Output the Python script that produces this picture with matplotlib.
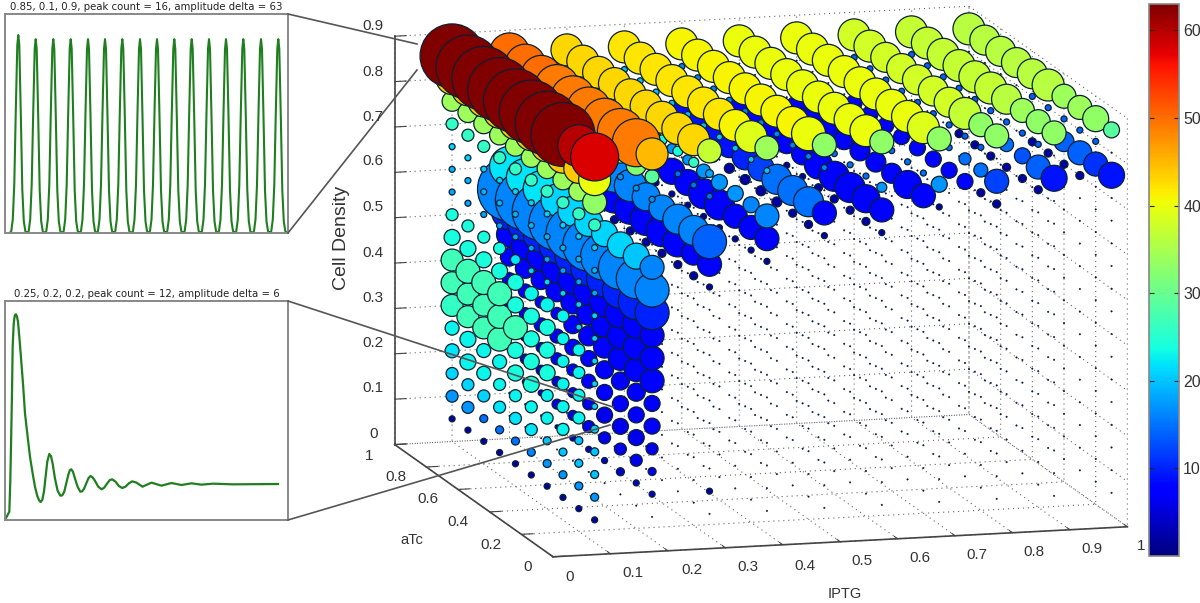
import matplotlib
matplotlib.use('Agg')
import matplotlib.pyplot as plt
from matplotlib.lines import Line2D

plt.rcParams['font.family'] = ['Liberation Sans', 'DejaVu Sans']

W, H = 1200, 603

iptg = [0.1, 0.2, 0.3, 0.4, 0.5, 0.6, 0.7, 0.8, 0.9, 1.0]
atc = [0.1, 0.2, 0.3, 0.4, 0.5, 0.6, 0.7, 0.8, 0.9, 1.0]
density = [0.05, 0.1, 0.15, 0.2, 0.25, 0.3, 0.35, 0.4, 0.45, 0.5, 0.55, 0.6, 0.65, 0.7, 0.75, 0.8, 0.85]

# each sheet: density -> (marker radius in px along aTc, amplitude delta along aTc)
# anything not listed is one of the tiny dark dots
sheet_01 = {
    0.85: ([24, 21, 32, 32, 32, 32, 32, 32, 32, 32], [58, 60, 63, 63, 63, 63, 63, 63, 63, 63]),
    0.80: ([16, 15, 16, 16, 16, 16, 16, 16, 16, 16], [40, 44, 44, 44, 44, 44, 44, 44, 44, 44]),
    0.75: ([12, 10, 10, 10, 10, 10, 10, 10, 10, 10], [33, 34, 34, 34, 34, 34, 34, 34, 34, 34]),
    0.70: ([6, 6, 6, 6, 6, 6, 6, 6, 6, 6], [26, 26, 26, 26, 26, 26, 26, 26, 26, 26]),
    0.65: ([3, 3, 3, 3, 3, 3, 3, 3, 3, 3], [21, 21, 21, 21, 21, 21, 21, 21, 21, 21]),
    0.60: ([3, 3, 3, 3, 3, 3, 3, 3, 3, 3], [19, 19, 19, 19, 19, 19, 19, 19, 19, 19]),
    0.55: ([3, 3, 3, 3, 3, 3, 3, 3, 3, 3], [18, 18, 18, 18, 18, 18, 18, 18, 18, 18]),
    0.50: ([3, 3, 3, 3, 3, 5, 6, 6, 6, 6], [21, 21, 21, 21, 21, 22, 24, 24, 24, 24]),
    0.45: ([3, 3, 6, 7, 7, 8, 8, 8, 8, 8], [21, 21, 23, 23, 23, 24, 24, 24, 24, 24]),
    0.40: ([3, 6, 6, 8, 8, 8, 12, 12, 12, 11], [21, 23, 23, 24, 24, 24, 27, 27, 27, 27]),
    0.35: ([3, 6, 6, 8, 8, 12, 12, 11, 11, 11], [21, 23, 23, 24, 24, 27, 27, 27, 27, 27]),
    0.30: ([3, 6, 6, 8, 8, 8, 12, 11, 11, 11], [21, 23, 23, 24, 24, 24, 27, 27, 27, 26]),
    0.25: ([4, 6, 6, 6, 8, 8, 7, 7, 8, 7], [21, 23, 23, 23, 24, 24, 23, 23, 23, 23]),
    0.20: ([4, 4, 6, 6, 6, 6, 6, 7, 8, 7], [20, 20, 23, 23, 23, 23, 23, 23, 23, 22]),
    0.15: ([4, 4, 4, 4, 6, 6, 6, 6, 6, 6], [20, 20, 20, 20, 22, 22, 22, 21, 21, 21]),
    0.10: ([4, 4, 4, 4, 4, 4, 4, 4, 6, 6], [17, 17, 17, 17, 16, 15, 15, 15, 17, 17]),
    0.05: ([3, 3, 3, 3, 3, 3, 3, 3, 3, 3], [2, 2, 2, 2, 2, 2, 2, 2, 2, 2]),
}
sheet_02 = {
    0.85: ([16, 24, 23, 22, 22, 22, 22, 20, 20, 20], [45, 49, 49, 49, 49, 49, 49, 50, 50, 50]),
    0.80: ([7, 10, 9, 9, 9, 9, 9, 9, 9, 9], [29, 32, 33, 33, 33, 33, 33, 33, 33, 33]),
    0.75: ([3, 3, 3, 3, 3, 3, 3, 3, 3, 3], [17, 17, 17, 17, 17, 17, 17, 17, 17, 17]),
    0.60: ([12, 13, 13, 13, 14, 15, 16, 18, 19, 20], [16, 20, 21, 21, 21, 21, 21, 22, 22, 22]),
    0.55: ([17, 20, 22, 24, 26, 27, 28, 29, 30, 32], [16, 16, 16, 16, 16, 16, 16, 16, 16, 16]),
    0.50: ([17, 18, 18, 18, 18, 18, 18, 18, 18, 18], [10, 10, 10, 10, 10, 10, 10, 10, 10, 10]),
    0.45: ([12, 14, 15, 15, 15, 15, 15, 14, 14, 13], [8, 8, 8, 8, 8, 8, 8, 8, 8, 8]),
    0.40: ([12, 13, 13, 13, 12, 12, 11, 10, 10, 9], [8, 8, 8, 8, 8, 8, 8, 8, 8, 8]),
    0.35: ([12, 12, 12, 11, 10, 9, 6, 6, 7, 7], [8, 8, 8, 8, 8, 8, 8, 8, 8, 8]),
    0.30: ([8, 9, 9, 9, 8, 8, 7, 7, 6, 6], [7, 7, 7, 7, 7, 7, 7, 7, 7, 7]),
    0.25: ([8, 8, 8, 8, 7, 6, 6, 5, 5, 5], [7, 7, 7, 7, 7, 7, 7, 7, 7, 7]),
    0.20: ([6, 8, 8, 8, 6, 5, 5, 5, 5, 3], [6, 6, 6, 6, 6, 6, 6, 6, 6, 6]),
    0.15: ([4, 6, 6, 6, 6, 5, 5, 3, 3, 1], [6, 6, 6, 6, 6, 6, 6, 6, 6, 6]),
    0.10: ([3, 3, 4, 3, 3, 3, 2, 1, 1, 1], [4, 4, 4, 4, 4, 4, 4, 4, 4, 4]),
}
sheet_03 = {
    0.85: ([12, 16, 16, 16, 16, 16, 16, 16, 16, 16], [37, 43, 43, 43, 43, 43, 43, 43, 43, 43]),
    0.80: ([4, 5, 5, 5, 5, 5, 5, 5, 5, 5], [18, 26, 24, 24, 24, 24, 24, 24, 24, 24]),
    0.75: ([3, 3, 3, 3, 3, 3, 3, 3, 3, 3], [15, 15, 15, 15, 15, 15, 15, 15, 15, 15]),
    0.65: ([17, 15, 15, 13, 14, 16, 18, 18, 18, 16], [14, 16, 16, 16, 16, 16, 16, 16, 16, 16]),
    0.60: ([12, 12, 15, 16, 16, 16, 16, 16, 16, 16], [8, 8, 8, 8, 8, 8, 8, 8, 8, 8]),
    0.55: ([3, 4, 4, 4, 4, 4, 4, 4, 4, 4], [2, 2, 2, 2, 2, 2, 2, 2, 2, 2]),
    0.10: ([3, 0.7, 0.7, 0.7, 0.7, 0.7, 0.7, 0.7, 0.7, 0.7], [2, 0, 0, 0, 0, 0, 0, 0, 0, 0]),
}
sheet_04 = {
    0.85: ([12, 16, 16, 16, 16, 16, 16, 16, 16, 16], [34, 39, 41, 42, 42, 42, 42, 42, 42, 42]),
    0.80: ([3, 3, 3, 3, 3, 3, 3, 3, 3, 3], [20, 20, 20, 20, 20, 20, 20, 20, 20, 20]),
    0.70: ([12, 8, 8, 8, 7, 5, 5, 5, 5, 5], [16, 16, 17, 17, 17, 17, 17, 17, 17, 17]),
    0.65: ([12, 12, 12, 15, 15, 13, 13, 12, 12, 12], [8, 8, 8, 8, 8, 8, 8, 8, 8, 8]),
    0.60: ([3, 3, 3, 3, 3, 3, 3, 3, 3, 3], [2, 2, 2, 2, 2, 2, 2, 2, 2, 2]),
}
sheet_05 = {
    0.85: ([12, 17, 16, 16, 16, 16, 16, 16, 16, 16], [33, 40, 41, 41, 41, 41, 41, 41, 41, 41]),
    0.80: ([3, 3, 3, 3, 3, 3, 3, 3, 3, 3], [16, 16, 16, 16, 16, 16, 16, 16, 16, 16]),
    0.70: ([12, 15, 15, 15, 13, 13, 12, 12, 12, 12], [8, 15, 15, 15, 12, 10, 9, 9, 9, 9]),
    0.65: ([3, 4, 4, 5, 5, 5, 5, 5, 5, 5], [2, 2, 2, 2, 2, 2, 2, 2, 2, 2]),
}
sheet_06 = {
    0.85: ([12, 16, 16, 16, 16, 16, 16, 16, 16, 16], [33, 40, 40, 40, 40, 40, 40, 40, 40, 40]),
    0.75: ([5, 3, 3, 3, 3, 3, 3, 3, 3, 3], [17, 15, 15, 15, 15, 15, 15, 15, 15, 15]),
    0.70: ([12, 14, 15, 15, 14, 11, 11, 11, 11, 11], [8, 8, 8, 8, 8, 8, 8, 8, 8, 8]),
    0.65: ([3, 4, 4, 4, 4, 3, 3, 3, 3, 3], [2, 2, 2, 2, 2, 2, 2, 2, 2, 2]),
}
sheet_07 = {
    0.85: ([12, 16, 16, 16, 16, 16, 16, 16, 16, 16], [33, 39, 40, 40, 40, 40, 40, 40, 40, 40]),
    0.75: ([8, 3, 3, 3, 3, 3, 3, 3, 3, 3], [17, 15, 15, 15, 15, 15, 15, 15, 15, 15]),
    0.70: ([3, 12, 14, 10, 10, 10, 10, 10, 10, 10], [2, 8, 8, 8, 8, 8, 8, 8, 8, 8]),
}
sheet_08 = {
    0.85: ([12, 12, 16, 15, 15, 15, 15, 15, 16, 16], [33, 33, 37, 38, 38, 38, 38, 38, 38, 38]),
    0.80: ([0.7, 3, 3, 3, 3, 3, 3, 3, 3, 3], [0, 14, 14, 14, 14, 14, 14, 14, 14, 14]),
    0.75: ([12, 7, 6, 3, 3, 0.7, 0.7, 0.7, 0.7, 0.7], [12, 15, 15, 15, 15, 0, 0, 0, 0, 0]),
    0.70: ([4, 4, 8, 8, 8, 8, 8, 8, 8, 8], [2, 2, 8, 8, 8, 8, 8, 8, 8, 8]),
}
sheet_09 = {
    0.85: ([12, 12, 12, 15, 16, 16, 16, 16, 16, 16], [33, 33, 34, 36, 37, 37, 37, 37, 37, 37]),
    0.80: ([0.7, 3, 3, 3, 3, 3, 3, 3, 3, 3], [0, 14, 14, 14, 14, 14, 14, 14, 14, 14]),
    0.75: ([13, 12, 8, 7, 3, 3, 3, 3, 3, 3], [9, 14, 13, 15, 15, 15, 15, 15, 15, 15]),
    0.70: ([0.7, 4, 4, 4, 4, 4, 4, 0.7, 0.7, 0.7], [0, 2, 2, 2, 2, 2, 2, 0, 0, 0]),
}
sheet_10 = {
    0.85: ([8, 13, 12, 12, 16, 15, 15, 15, 15, 16], [29, 33, 34, 34, 36, 36, 36, 36, 36, 36]),
    0.80: ([0.7, 3, 3, 3, 3, 3, 0.7, 0.7, 0.7, 0.7], [0, 14, 14, 14, 14, 14, 0, 0, 0, 0]),
    0.75: ([13, 12, 12, 10, 3, 3, 3, 3, 3, 3], [9, 11, 14, 14, 14, 14, 14, 14, 14, 14]),
    0.70: ([0.7, 0.7, 4, 4, 4, 4, 0.7, 0.7, 0.7, 0.7], [0, 0, 2, 2, 2, 2, 0, 0, 0, 0]),
}
sheets = [sheet_01, sheet_02, sheet_03, sheet_04, sheet_05,
          sheet_06, sheet_07, sheet_08, sheet_09, sheet_10]

dot_radius = 0.7
dot_amp = 0

# top inset: peak positions (px inside the box), apex heights, and the peak outline
peaks_x = [13.3, 30.7, 48.3, 65.7, 83, 100, 117.3, 135, 152, 169.3, 186.7, 204, 221, 238.3, 256, 273.3]
peaks_y = [63, 61.7, 61.7, 61.7, 61.7, 61.7, 61.7, 61.7, 61.7, 61.7, 61.7, 61.7, 61.7, 61.7, 61.7, 61.7]
peak_dx = [-8.5, -7, -5.5, -4, -2.5, -1, 0, 1, 2.5, 4, 5.5, 7, 8.5]
peak_frac = [0, 0.01, 0.07, 0.25, 0.62, 0.95, 1, 0.95, 0.6, 0.22, 0.06, 0.01, 0]

trace_x = [0, 13, 16, 18, 21, 23, 26, 28, 30, 33, 36, 39, 43, 47, 54, 60, 68, 75, 83, 90, 97, 102, 107, 112,
           117, 122, 127, 133, 138, 143, 150, 158, 166, 172, 178, 184, 190, 195, 199, 204, 210, 218, 226,
           232, 238, 245, 251, 257, 263, 270, 280, 290, 298, 307, 315, 322, 332, 342, 352, 362, 372, 382,
           395, 413, 440, 470, 500, 530, 560, 590, 625, 685, 820]
trace_y = [0, 25, 120, 220, 380, 520, 585, 605, 615, 617, 610, 595, 550, 500, 410, 320, 250, 190, 140, 100,
           72, 60, 54, 60, 85, 130, 175, 198, 192, 170, 125, 88, 73, 74, 85, 110, 135, 150, 152, 145,
           125, 100, 85, 86, 95, 112, 126, 132, 128, 118, 100, 92, 97, 110, 120, 122, 115, 102, 96, 100,
           110, 116, 112, 100, 112, 103, 111, 105, 110, 106, 109, 107, 108]

title_top = '0.85, 0.1, 0.9, peak count = 16, amplitude delta = 63'
title_bottom = '0.25, 0.2, 0.2, peak count = 12, amplitude delta = 6'

xs, ys, zs, radii, amps = [], [], [], [], []
for i, x in enumerate(iptg):
    for z in density:
        row = sheets[i].get(z)
        for k, t in enumerate(atc):
            xs.append(x)
            ys.append(t)
            zs.append(z)
            radii.append(row[0][k] if row else dot_radius)
            amps.append(row[1][k] if row else dot_amp)

# marker area in points^2 from radius in px, thin outline on the tiny dots
sizes = [(2 * r * 0.72) ** 2 for r in radii]
edges = [0.9 if r > 1 else 0.4 for r in radii]

fig = plt.figure(figsize=(W / 100, H / 100), dpi=100)

S = 917
cx, cy = 761, H - 281.5
ax = fig.add_axes([(cx - 0.5135 * S) / W, (cy - 0.5135 * S) / H, S / W, S / H], projection='3d', proj_type='ortho')
ax.patch.set_alpha(0)
ax.view_init(elev=11.1, azim=-105.2)
ax.set_box_aspect((595, 604, 416))
ax.set_xlim(0, 1)
ax.set_ylim(0, 1)
ax.set_zlim(0, 0.9)

sc = ax.scatter(xs, ys, zs, s=sizes, c=amps, cmap='jet', vmin=0, vmax=63, depthshade=False,
                edgecolors='#0b2030', linewidths=edges)

x_ticks = [0, 0.1, 0.2, 0.3, 0.4, 0.5, 0.6, 0.7, 0.8, 0.9, 1]
y_ticks = [0, 0.2, 0.4, 0.6, 0.8, 1]
z_ticks = [0, 0.1, 0.2, 0.3, 0.4, 0.5, 0.6, 0.7, 0.8, 0.9]
ax.set_xticks(x_ticks, [''] * len(x_ticks))
ax.set_yticks(y_ticks, [''] * len(y_ticks))
ax.set_zticks(z_ticks, [''] * len(z_ticks))
for axis in (ax.xaxis, ax.yaxis, ax.zaxis):
    axis.set_pane_color((1, 1, 1, 0))
    axis.pane.set_edgecolor((1, 1, 1, 0))
    axis.line.set_color('#444444')
    axis.line.set_linewidth(1.2)
    axis._axinfo['grid'].update(color='#666666', linewidth=0.8, linestyle=(0, (1, 3.5)))
    axis._axinfo['tick'].update(inward_factor=0, outward_factor=0.25)
ax.tick_params(color='#444444', width=1.0)

# tick labels sit well away from the ticks in the original, so they are placed by hand
x_label_pos = [(570, 577), (633, 573), (692, 570), (748, 567), (805, 566), (862, 561),
               (920, 558), (977, 555), (1034, 552), (1092, 549), (1141, 546)]
y_label_pos = [(528, 567), (491, 545), (458, 522), (428, 499), (396, 477), (369, 456)]
z_label_pos = [(374, 434), (373, 388), (373, 343), (373, 298), (373, 253), (373, 207),
               (373, 161), (373, 117), (373, 72), (373, 26)]
for ticks, pos in ((x_ticks, x_label_pos), (y_ticks, y_label_pos), (z_ticks, z_label_pos)):
    for v, (px, py) in zip(ticks, pos):
        fig.text(px / W, 1 - py / H, f'{v:g}', ha='center', va='center', fontsize=11, color='#333333')

fig.text(341 / W, 1 - 238 / H, 'Cell Density', rotation=90, ha='center', va='center', fontsize=14, color='#333333')
fig.text(845 / W, 1 - 594 / H, 'IPTG', ha='center', va='center', fontsize=10.5, color='#333333')
fig.text(412 / W, 1 - 540 / H, 'aTc', ha='center', va='center', fontsize=10.5, color='#333333')

# colour bar
cax = fig.add_axes([1149 / W, 1 - 556 / H, 30 / W, 552 / H])
cb = fig.colorbar(sc, cax=cax)
cb.set_ticks([10, 20, 30, 40, 50, 60])
cax.tick_params(direction='in', length=3.5, width=0.8, color='#222222', labelsize=11.5, labelcolor='#333333',
                pad=3, left=True, right=True)
cb.outline.set_edgecolor('#888888')
cb.outline.set_linewidth(1.2)

# insets
ax1 = fig.add_axes([5 / W, 1 - 233 / H, 283 / W, 219 / H])
tx, ty = [], []
for px, py in zip(peaks_x, peaks_y):
    for dx, f in zip(peak_dx, peak_frac):
        tx.append(px + dx)
        ty.append(py * f)
ax1.plot(tx, ty, color='#1f7f1f', lw=1.5)
ax1.set_xlim(0, 283)
ax1.set_ylim(0, 69.7)

ax2 = fig.add_axes([5 / W, 1 - 520 / H, 283 / W, 219 / H])
ax2.plot(trace_x, trace_y, color='#1f7f1f', lw=1.6)
ax2.set_xlim(0, 850)
ax2.set_ylim(0, 657)

for a, title in ((ax1, title_top), (ax2, title_bottom)):
    a.set_xticks([])
    a.set_yticks([])
    for sp in a.spines.values():
        sp.set_color('#888888')
        sp.set_linewidth(1.4)
    a.set_title(title, fontsize=7.3, color='#222222', family='DejaVu Sans', pad=3)

# connector lines from the insets to the points they show
for x0, y0, x1, y1 in [(288, 14, 417, 44), (288, 233, 417, 70), (288, 301, 613, 407), (288, 520, 610, 425)]:
    fig.add_artist(Line2D([x0 / W, x1 / W], [1 - y0 / H, 1 - y1 / H], color='#555555', lw=1.2,
                          transform=fig.transFigure))

fig.savefig('out.png', dpi=100)
